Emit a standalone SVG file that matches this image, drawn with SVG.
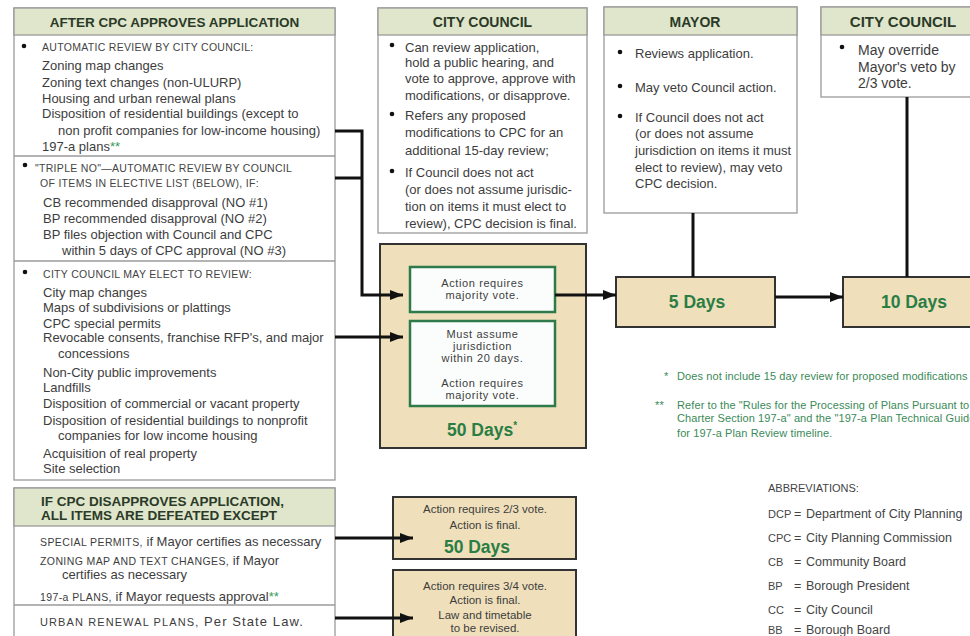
<svg xmlns="http://www.w3.org/2000/svg" width="970" height="636" viewBox="0 0 970 636">
<defs>
<marker id="ah" markerWidth="13" markerHeight="10" refX="13" refY="5" orient="auto" markerUnits="userSpaceOnUse">
<path d="M0,0 L13,5 L0,10 z" fill="#111"/>
</marker>
</defs>
<style>
text{font-family:"Liberation Sans",Arial,sans-serif;}
.box{fill:#fff;stroke:#9a9a9a;stroke-width:1.3;}
.hdr{fill:#dfe6cb;stroke:#9a9a9a;stroke-width:1.3;}
.div{stroke:#9a9a9a;stroke-width:1.3;}
.ht{font-size:14px;font-weight:bold;fill:#2b3a28;}
.t{font-size:13px;fill:#3d3d3d;}
.t14{font-size:14px;fill:#3d3d3d;}
.sc{font-size:10.5px;fill:#444;letter-spacing:0.3px;}
.scs{font-size:10.5px;letter-spacing:0.4px;}
.dot{fill:#111;}
.tan{fill:#efe0bb;stroke:#333;stroke-width:2;}
.inner{fill:#fbfdfd;stroke:#2e7a4a;stroke-width:2.5;}
.it{font-size:11px;fill:#3d3d3d;letter-spacing:0.6px;text-anchor:middle;}
.bt{font-size:11.5px;fill:#3d3d3d;text-anchor:middle;}
.days{font-size:17.5px;font-weight:bold;fill:#2a7d44;text-anchor:middle;}
.fn{font-size:11px;fill:#3a8a58;letter-spacing:0.1px;}
.ab{font-size:12.5px;fill:#444;}
.abl{font-size:11px;fill:#444;}
.grn{fill:#3a9a5a;}
.con{stroke:#111;stroke-width:3;fill:none;}
</style>

<g id="after-cpc-approves">
<rect class="box" x="14" y="8" width="321" height="472"/>
<rect class="hdr" x="14" y="8" width="321" height="27"/>
<text class="ht" x="174.5" y="27" text-anchor="middle" style="font-size:13.5px">AFTER CPC APPROVES APPLICATION</text>
<circle class="dot" cx="24" cy="46" r="2.3"/>
<text class="sc" x="42" y="50.5">AUTOMATIC REVIEW BY CITY COUNCIL:</text>
<text class="t" x="42" y="69.5">Zoning map changes</text>
<text class="t" x="42" y="86.5">Zoning text changes (non-ULURP)</text>
<text class="t" x="42" y="102.5">Housing and urban renewal plans</text>
<text class="t" x="42" y="118">Disposition of residential buildings (except to</text>
<text class="t" x="58" y="134.5">non profit companies for low-income housing)</text>
<text class="t" x="42" y="150.5">197-a plans<tspan class="grn">**</tspan></text>
<line class="div" x1="14" y1="156" x2="335" y2="156"/>
<circle class="dot" cx="25" cy="165" r="2.3"/>
<text class="sc" x="35" y="171.5">"TRIPLE NO"—AUTOMATIC REVIEW BY COUNCIL</text>
<text class="sc" x="40" y="186.5">OF ITEMS IN ELECTIVE LIST (BELOW), IF:</text>
<text class="t" x="43" y="206.5">CB recommended disapproval (NO #1)</text>
<text class="t" x="43" y="222.5">BP recommended disapproval (NO #2)</text>
<text class="t" x="43" y="238.5">BP files objection with Council and CPC</text>
<text class="t" x="62" y="254.5">within 5 days of CPC approval (NO #3)</text>
<line class="div" x1="14" y1="261" x2="335" y2="261"/>
<circle class="dot" cx="25" cy="272" r="2.3"/>
<text class="sc" x="43" y="278">CITY COUNCIL MAY ELECT TO REVIEW:</text>
<text class="t" x="43" y="296.5">City map changes</text>
<text class="t" x="43" y="311.5">Maps of subdivisions or plattings</text>
<text class="t" x="43" y="327.5">CPC special permits</text>
<text class="t" x="43" y="341.5">Revocable consents, franchise RFP's, and major</text>
<text class="t" x="58" y="357.5">concessions</text>
<text class="t" x="43" y="376.5">Non-City public improvements</text>
<text class="t" x="43" y="391.5">Landfills</text>
<text class="t" x="43" y="407.5">Disposition of commercial or vacant property</text>
<text class="t" x="43" y="424.5">Disposition of residential buildings to nonprofit</text>
<text class="t" x="58" y="439.5">companies for low income housing</text>
<text class="t" x="43" y="457.5">Acquisition of real property</text>
<text class="t" x="43" y="472.5">Site selection</text>
</g>

<g id="city-council-review">
<rect class="box" x="378" y="8" width="209" height="225"/>
<rect class="hdr" x="378" y="8" width="209" height="27"/>
<text class="ht" x="482.5" y="27" text-anchor="middle">CITY COUNCIL</text>
<circle class="dot" cx="392" cy="45" r="2.3"/>
<text class="t" x="405" y="51.5">Can review application,</text>
<text class="t" x="405" y="66.5">hold a public hearing, and</text>
<text class="t" x="405" y="82.5">vote to approve, approve with</text>
<text class="t" x="405" y="99.5">modifications, or disapprove.</text>
<circle class="dot" cx="392" cy="114" r="2.3"/>
<text class="t" x="405" y="119.5">Refers any proposed</text>
<text class="t" x="405" y="136.5">modifications to CPC for an</text>
<text class="t" x="405" y="154.5">additional 15-day review;</text>
<circle class="dot" cx="392" cy="171" r="2.3"/>
<text class="t" x="405" y="176.5">If Council does not act</text>
<text class="t" x="405" y="193.5">(or does not assume jurisdic-</text>
<text class="t" x="405" y="210.5">tion on items it must elect to</text>
<text class="t" x="405" y="227.5">review), CPC decision is final.</text>
</g>

<g id="mayor">
<rect class="box" x="604" y="7" width="193" height="206"/>
<rect class="hdr" x="604" y="7" width="193" height="28"/>
<text class="ht" x="695" y="27" text-anchor="middle">MAYOR</text>
<circle class="dot" cx="620" cy="52" r="2.3"/>
<text class="t" x="635" y="57.5">Reviews application.</text>
<circle class="dot" cx="620" cy="86" r="2.3"/>
<text class="t" x="635" y="91.5">May veto Council action.</text>
<circle class="dot" cx="620" cy="116" r="2.3"/>
<text class="t" x="635" y="121.5">If Council does not act</text>
<text class="t" x="635" y="137.5">(or does not assume</text>
<text class="t" x="635" y="154.5">jurisdiction on items it must</text>
<text class="t" x="635" y="171.5">elect to review), may veto</text>
<text class="t" x="635" y="187.5">CPC decision.</text>
</g>

<g id="city-council-override">
<rect class="box" x="821" y="7" width="160" height="90"/>
<rect class="hdr" x="821" y="7" width="160" height="28"/>
<text class="ht" x="903" y="27" text-anchor="middle" style="font-size:15px">CITY COUNCIL</text>
<circle class="dot" cx="842" cy="47" r="2.3"/>
<text class="t14" x="858" y="55">May override</text>
<text class="t14" x="858" y="72">Mayor's veto by</text>
<text class="t14" x="858" y="88">2/3 vote.</text>
</g>

<g id="fifty-days">
<rect class="tan" x="380" y="244" width="206" height="204"/>
<rect class="inner" x="410" y="267" width="145" height="45"/>
<text class="it" x="482.5" y="286.5">Action requires</text>
<text class="it" x="482.5" y="298.5">majority vote.</text>
<rect class="inner" x="410" y="321" width="145" height="85"/>
<text class="it" x="482.5" y="338">Must assume</text>
<text class="it" x="482.5" y="350">jurisdiction</text>
<text class="it" x="482.5" y="362">within 20 days.</text>
<text class="it" x="482.5" y="387">Action requires</text>
<text class="it" x="482.5" y="399">majority vote.</text>
<text class="days" x="482" y="436">50 Days<tspan style="font-size:10px" dy="-7">*</tspan></text>
</g>

<g id="five-days">
<rect class="tan" x="616" y="277" width="159" height="50"/>
<text class="days" x="697" y="308">5 Days</text>
</g>

<g id="ten-days">
<rect class="tan" x="843" y="277" width="140" height="50"/>
<text class="days" x="914" y="308">10 Days</text>
</g>

<g id="cpc-disapproves">
<rect class="box" x="14" y="488" width="321" height="160"/>
<rect class="hdr" x="14" y="488" width="321" height="38"/>
<text class="ht" x="41" y="506" style="font-size:13.5px">IF CPC DISAPPROVES APPLICATION,</text>
<text class="ht" x="41" y="520" style="font-size:13.5px">ALL ITEMS ARE DEFEATED EXCEPT</text>
<text class="t" x="40" y="546"><tspan class="scs">SPECIAL PERMITS,</tspan> if Mayor certifies as necessary</text>
<text class="t" x="40" y="565"><tspan class="scs">ZONING MAP AND TEXT CHANGES,</tspan> if Mayor</text>
<text class="t" x="62" y="579">certifies as necessary</text>
<text class="t" x="40" y="601"><tspan class="scs">197-a PLANS,</tspan> if Mayor requests approval<tspan class="grn">**</tspan></text>
<line class="div" x1="14" y1="605" x2="335" y2="605"/>
<text class="t" x="40" y="626" style="letter-spacing:1.1px"><tspan style="font-size:11px">URBAN RENEWAL PLANS,</tspan> Per State Law.</text>
</g>

<g id="two-thirds-vote">
<rect class="tan" x="393" y="497" width="183" height="62"/>
<text class="bt" x="485" y="513">Action requires 2/3 vote.</text>
<text class="bt" x="485" y="529">Action is final.</text>
<text class="days" x="477" y="553">50 Days</text>
</g>

<g id="three-quarters-vote">
<rect class="tan" x="393" y="570" width="183" height="75"/>
<text class="bt" x="485" y="590">Action requires 3/4 vote.</text>
<text class="bt" x="485" y="604">Action is final.</text>
<text class="bt" x="485" y="619">Law and timetable</text>
<text class="bt" x="485" y="632">to be revised.</text>
</g>

<g id="footnotes">
<text class="fn" x="664" y="380">*</text>
<text class="fn" x="677" y="380">Does not include 15 day review for proposed modifications</text>
<text class="fn" x="655" y="409">**</text>
<text class="fn" x="677" y="409">Refer to the "Rules for the Processing of Plans Pursuant to</text>
<text class="fn" x="677" y="422">Charter Section 197-a" and the "197-a Plan Technical Guide"</text>
<text class="fn" x="677" y="437">for 197-a Plan Review timeline.</text>
</g>

<g id="abbreviations">
<text class="abl" x="768" y="492">ABBREVIATIONS:</text>
<text class="abl" x="768" y="517.5">DCP</text><text class="ab" x="794" y="517.5">=</text><text class="ab" x="806" y="517.5">Department of City Planning</text>
<text class="abl" x="768" y="541.5">CPC</text><text class="ab" x="794" y="541.5">=</text><text class="ab" x="806" y="541.5">City Planning Commission</text>
<text class="abl" x="768" y="565.5">CB</text><text class="ab" x="794" y="565.5">=</text><text class="ab" x="806" y="565.5">Community Board</text>
<text class="abl" x="768" y="589.5">BP</text><text class="ab" x="794" y="589.5">=</text><text class="ab" x="806" y="589.5">Borough President</text>
<text class="abl" x="768" y="613.5">CC</text><text class="ab" x="794" y="613.5">=</text><text class="ab" x="806" y="613.5">City Council</text>
<text class="abl" x="768" y="634">BB</text><text class="ab" x="794" y="634">=</text><text class="ab" x="806" y="634">Borough Board</text>
</g>

<g id="connectors">
<polyline class="con" points="335,131 362,131 362,295 403,295" marker-end="url(#ah)"/>
<line class="con" x1="335" y1="178" x2="362" y2="178"/>
<line class="con" x1="335" y1="337" x2="403" y2="337" marker-end="url(#ah)"/>
<line class="con" x1="555" y1="295" x2="616" y2="295" marker-end="url(#ah)"/>
<line class="con" x1="775" y1="297" x2="843" y2="297" marker-end="url(#ah)"/>
<line class="con" x1="693" y1="213" x2="693" y2="277"/>
<line class="con" x1="907" y1="97" x2="907" y2="277"/>
<line class="con" x1="335" y1="538" x2="413" y2="538" marker-end="url(#ah)"/>
<line class="con" x1="335" y1="618" x2="413" y2="618" marker-end="url(#ah)"/>
</g>
</svg>
